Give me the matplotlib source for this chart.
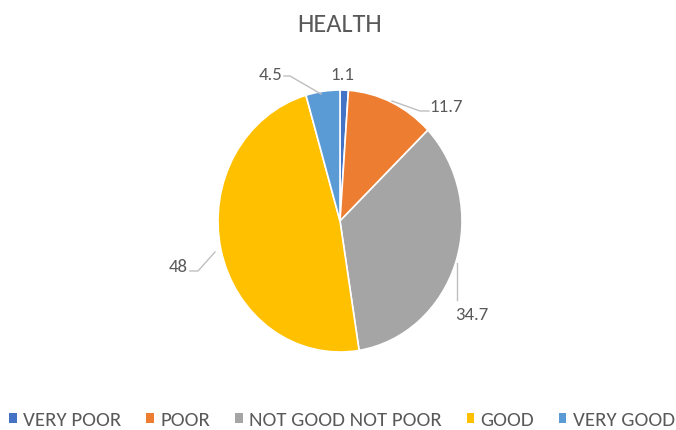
import matplotlib
matplotlib.use("Agg")
import matplotlib.pyplot as plt
from matplotlib.patches import Patch

categories = ["VERY POOR", "POOR", "NOT GOOD NOT POOR", "GOOD", "VERY GOOD"]
values = [1.1, 11.7, 34.7, 48, 4.5]
value_labels = ["1.1", "11.7", "34.7", "48", "4.5"]
colors = ["#4472C4", "#ED7D31", "#A5A5A5", "#FFC000", "#5B9BD5"]
title = "HEALTH"

FONT = ["Carlito", "DejaVu Sans"]
TXT = "#595959"
plt.rcParams['font.family'] = FONT

W, H = 676, 430
fig = plt.figure(figsize=(W / 100, H / 100), dpi=100)

# pie axes (slightly taller than wide, as in the reference image)
pl, pr, pt, pb = 218, 462, 90, 352
pax = fig.add_axes([pl / W, 1 - pb / H, (pr - pl) / W, (pb - pt) / H])
pax.pie(values, colors=colors, startangle=90, counterclock=False,
        radius=1, frame=True, wedgeprops=dict(edgecolor="white", linewidth=1.2))
pax.set_aspect('auto')
pax.set_xlim(-1, 1)
pax.set_ylim(-1, 1)
pax.axis('off')

# overlay axes in pixel units (top-left origin) for labels and leader lines
ax = fig.add_axes([0, 0, 1, 1], facecolor='none')
ax.set_xlim(0, W)
ax.set_ylim(H, 0)
ax.axis('off')

# label placement (style): (x, baseline y, horizontal alignment)
label_pos = [(342, 80, 'center'), (446, 112, 'center'), (472, 320, 'center'),
             (188, 272, 'right'), (282, 80, 'right')]
leaders = [
    None,
    [(392, 101), (420, 111), (429, 111)],
    [(457, 263), (457, 300)],
    [(215, 252), (198, 271), (190, 271)],
    [(284, 76), (290, 76), (321, 94)],
]
for lab, (x, y, ha), ld in zip(value_labels, label_pos, leaders):
    ax.text(x, y, lab, ha=ha, va='baseline', fontsize=13.5, color=TXT)
    if ld:
        ax.plot([p[0] for p in ld], [p[1] for p in ld], color="#BFBFBF", lw=1)

ax.text(339.5, 32, title, ha='center', va='baseline', fontsize=19, color=TXT)

handles = [Patch(facecolor=c, edgecolor='none') for c in colors]
fig.legend(handles, categories, loc='center', bbox_to_anchor=(342 / W, 1 - 420 / H),
           ncol=5, frameon=False, fontsize=15, handlelength=0.36, handleheight=0.36,
           handletextpad=0.3, columnspacing=1.2, labelcolor=TXT, borderpad=0,
           borderaxespad=0)

fig.savefig("out.png", dpi=100)
